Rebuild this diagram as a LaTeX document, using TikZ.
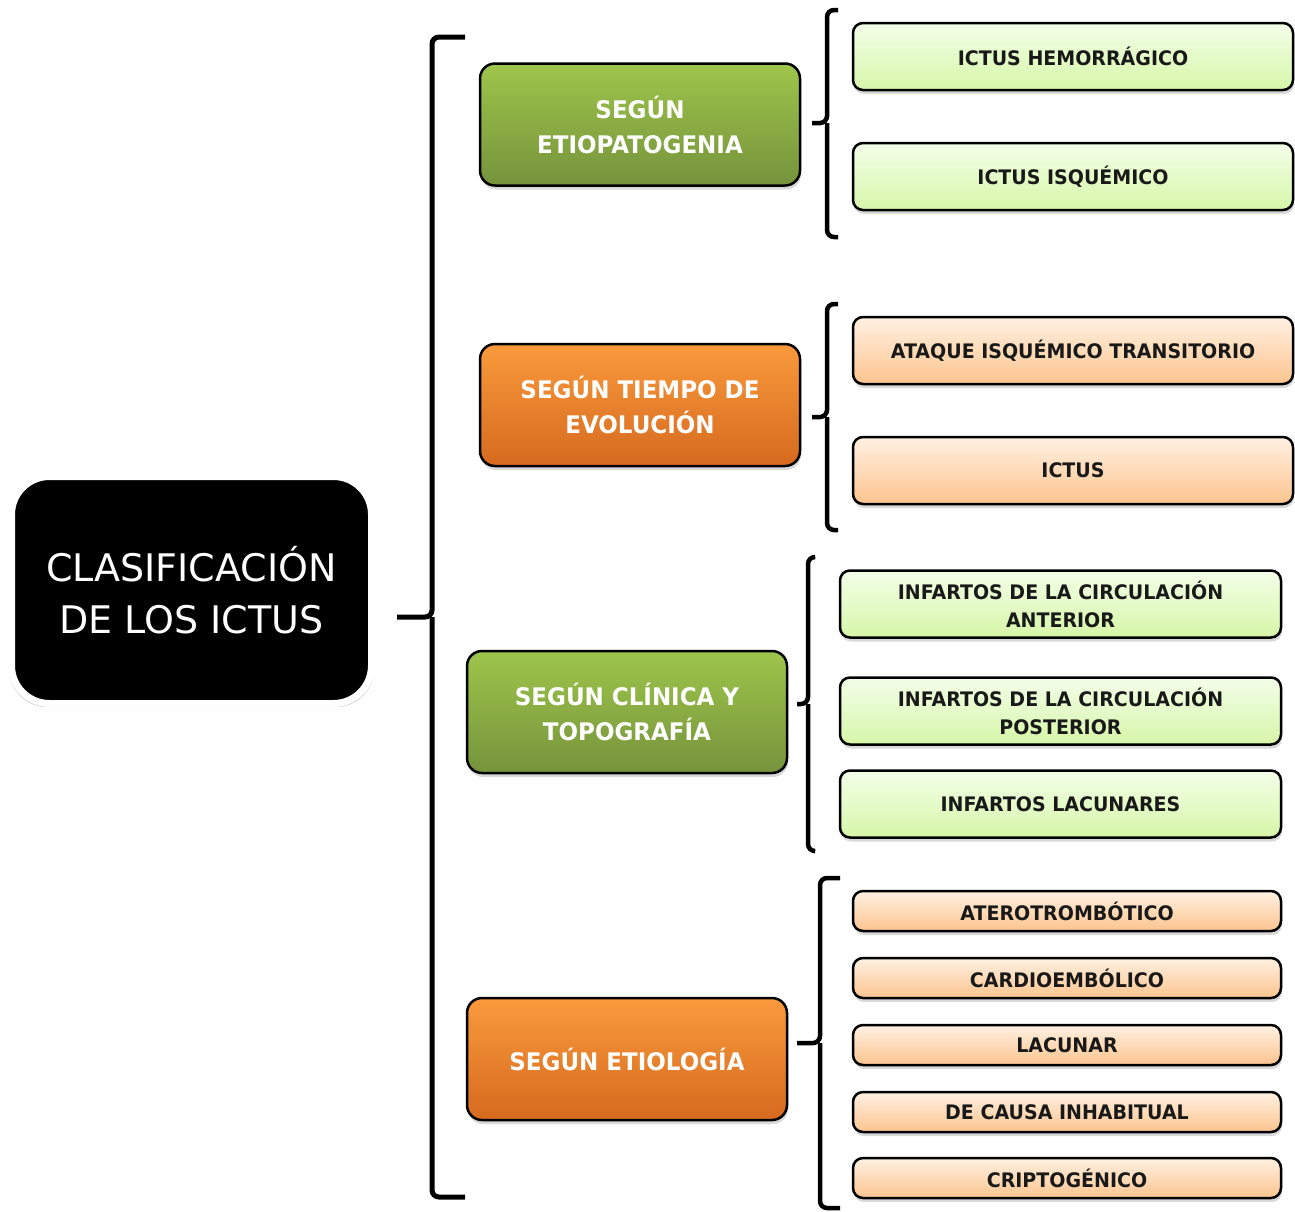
\documentclass[tikz,border=0pt]{standalone}
\usepackage{fontspec}
\setmainfont{DejaVu Sans}[FakeStretch=0.95]
\newfontfamily\rootfont{DejaVu Sans}
\usetikzlibrary{shadows}
\definecolor{gtop}{HTML}{9EC54B}
\definecolor{gbot}{HTML}{76933C}
\definecolor{otop}{HTML}{F99A3C}
\definecolor{obot}{HTML}{D66A1F}
\definecolor{lgtop}{HTML}{F3FFE9}
\definecolor{lgbot}{HTML}{D6F6A8}
\definecolor{lotop}{HTML}{FFF1E3}
\definecolor{lobot}{HTML}{FCC48E}
\begin{document}
\begin{tikzpicture}[x=1pt,y=-1pt,
  shad/.style={drop shadow={opacity=0.3,shadow xshift=1pt,shadow yshift=-4pt}},
  catbox/.style={shad,rounded corners=15pt,draw=black,line width=2.5pt,
    minimum width=320pt,minimum height=122pt,inner sep=0pt,align=center,
    text=white,font=\bfseries\fontsize{24.2}{35}\selectfont},
  leafbox/.style={shad,rounded corners=10pt,draw=black,line width=2.5pt,
    minimum height=67pt,inner sep=0pt,align=center,
    text=black!90,font=\bfseries\fontsize{20}{28}\selectfont},
  gcat/.style={catbox,top color=gtop,bottom color=gbot},
  ocat/.style={catbox,top color=otop,bottom color=obot},
  gleaf/.style={leafbox,top color=lgtop,bottom color=lgbot},
  oleaf/.style={leafbox,top color=lotop,bottom color=lobot},
  brk/.style={draw=black,line width=4.5pt,rounded corners=7pt}
]
\useasboundingbox (0,0) rectangle (1295,1211);

% root
\node[draw=white,line width=7pt,fill=black,rounded corners=38pt,
  minimum width=360pt,minimum height=227pt,inner sep=0pt,align=center,
  text=white,font=\rootfont\fontsize{38}{52}\selectfont,
  drop shadow={opacity=0.35,shadow xshift=0pt,shadow yshift=-2pt,shadow scale=1.015}]
  (root) at (191.5,590) {CLASIFICACIÓN\\DE LOS ICTUS};

% categories
\node[gcat] (c1) at (640,124.5) {SEGÚN\\ETIOPATOGENIA};
\node[ocat] (c2) at (640,405) {SEGÚN TIEMPO DE\\EVOLUCIÓN};
\node[gcat] (c3) at (627,712) {SEGÚN CLÍNICA Y\\TOPOGRAFÍA};
\node[ocat] (c4) at (627,1059) {SEGÚN ETIOLOGÍA};

% leaves group 1
\node[gleaf,minimum width=440pt] (l11) at (1073,56.5) {ICTUS HEMORRÁGICO};
\node[gleaf,minimum width=440pt] (l12) at (1073,176.5) {ICTUS ISQUÉMICO};
% group 2
\node[oleaf,minimum width=440pt] (l21) at (1073,350.5) {ATAQUE ISQUÉMICO TRANSITORIO};
\node[oleaf,minimum width=440pt] (l22) at (1073,470.5) {ICTUS};
% group 3
\node[gleaf,minimum width=441pt] (l31) at (1060.5,604) {INFARTOS DE LA CIRCULACIÓN\\ANTERIOR};
\node[gleaf,minimum width=441pt] (l32) at (1060.5,711) {INFARTOS DE LA CIRCULACIÓN\\POSTERIOR};
\node[gleaf,minimum width=441pt] (l33) at (1060.5,804) {INFARTOS LACUNARES};
% group 4
\node[oleaf,minimum width=428pt,minimum height=40pt] (l41) at (1067,911) {ATEROTROMBÓTICO};
\node[oleaf,minimum width=428pt,minimum height=40pt] (l42) at (1067,978) {CARDIOEMBÓLICO};
\node[oleaf,minimum width=428pt,minimum height=40pt] (l43) at (1067,1045) {LACUNAR};
\node[oleaf,minimum width=428pt,minimum height=40pt] (l44) at (1067,1112) {DE CAUSA INHABITUAL};
\node[oleaf,minimum width=428pt,minimum height=40pt] (l45) at (1067,1178) {CRIPTOGÉNICO};

% bracket coordinates
\coordinate (r0) at (397,617);
\coordinate (r0a) at (465,37);
\coordinate (r0b) at (465,1197);
\coordinate (b1t) at (812,123);
\coordinate (b1a) at (838,10);
\coordinate (b1b) at (838,237);
\coordinate (b2t) at (812,417);
\coordinate (b2a) at (838,304);
\coordinate (b2b) at (838,530);
\coordinate (b3t) at (797,704);
\coordinate (b3a) at (814,557);
\coordinate (b3b) at (814,851);
\coordinate (b4t) at (797,1043);
\coordinate (b4a) at (840,878);
\coordinate (b4b) at (840,1208);

% root bracket
\draw[brk,line width=5pt] (r0a) -- (r0a -| 432,0) -- (432,617) -- (r0);
\draw[brk,line width=5pt] (r0b) -- (r0b -| 432,0) -- (432,617);
% bracket 1
\draw[brk] (b1a) -- (b1a -| 827,0) -- (827,123) -- (b1t);
\draw[brk] (b1b) -- (b1b -| 827,0) -- (827,123);
% bracket 2
\draw[brk] (b2a) -- (b2a -| 827,0) -- (827,417) -- (b2t);
\draw[brk] (b2b) -- (b2b -| 827,0) -- (827,417);
% bracket 3
\draw[brk] (b3a) -- (b3a -| 808,0) -- (808,704) -- (b3t);
\draw[brk] (b3b) -- (b3b -| 808,0) -- (808,704);
% bracket 4
\draw[brk] (b4a) -- (b4a -| 820,0) -- (820,1043) -- (b4t);
\draw[brk] (b4b) -- (b4b -| 820,0) -- (820,1043);
\end{tikzpicture}
\end{document}
